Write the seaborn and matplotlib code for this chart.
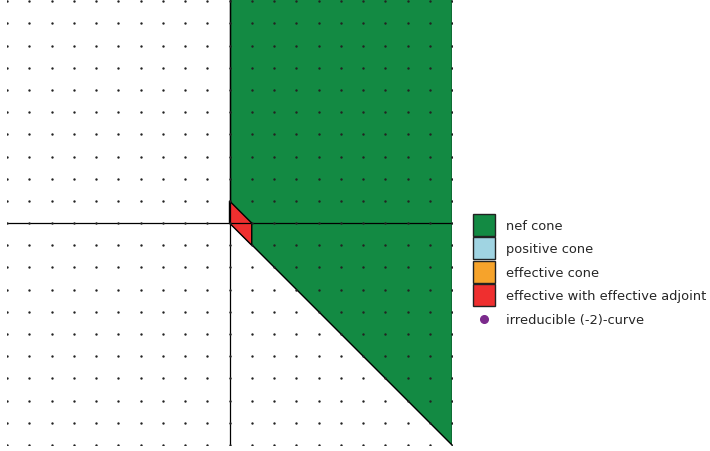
import numpy as np
import pandas as pd
import matplotlib
matplotlib.use('Agg')
import matplotlib.pyplot as plt
import seaborn as sns
from matplotlib.patches import Polygon, Patch
from matplotlib.lines import Line2D
from matplotlib.legend_handler import HandlerLine2D

# lattice and cone data
lattice_range = list(range(-10, 11))
nef_cone = [(0, 0), (0, 11), (10, 11), (10, -10)]
effective_adjoint = [(0, 1), (1, 0), (1, -1), (0, 0)]

legend_labels = ['nef cone', 'positive cone', 'effective cone',
                 'effective with effective adjoint', 'irreducible (-2)-curve']
legend_colors = ['#138a43', '#a0d4e2', '#f6a32b', '#ef2f2f', '#7b2a8c']


class DotHandler(HandlerLine2D):
    # put the dot level with its label
    def create_artists(self, *args, **kwargs):
        artists = super().create_artists(*args, **kwargs)
        for a in artists:
            a.set_ydata(np.asarray(a.get_ydata()) - 2.8)
        return artists


sns.set_style('white')
plt.rcParams['font.family'] = ['DejaVu Sans']

fig = plt.figure(figsize=(7.1, 4.52), dpi=100)
ax = fig.add_axes([7 / 710, 6 / 452, 445 / 710, 446 / 452])

# regions
ax.add_patch(Polygon(nef_cone, closed=True, facecolor=legend_colors[0],
                     edgecolor='black', linewidth=1, zorder=1))
ax.add_patch(Polygon(effective_adjoint, closed=True, facecolor=legend_colors[3],
                     edgecolor='black', linewidth=1, zorder=2))

# axes lines
ax.plot([-10, 10], [0, 0], color='black', linewidth=0.9, zorder=3)
ax.plot([0, 0], [-10, 11], color='black', linewidth=0.9, zorder=3)

# lattice points
xx, yy = np.meshgrid(lattice_range, lattice_range)
pts = pd.DataFrame({'x': xx.ravel(), 'y': yy.ravel()})
sns.scatterplot(data=pts, x='x', y='y', ax=ax, s=3, color='#222222',
                linewidth=0, zorder=4, legend=False)

ax.set_xlim(-10, 10)
ax.set_ylim(-10, 10.1)
ax.set_axis_off()

handles = [Patch(facecolor=c, edgecolor='#222222', linewidth=1) for c in legend_colors[:4]]
dot = Line2D([], [], linestyle='none', marker='o', markersize=5.5,
             markerfacecolor=legend_colors[4], markeredgecolor=legend_colors[4])
handles.append(dot)
fig.legend(handles, legend_labels, loc='upper left', bbox_to_anchor=(469 / 710, 1 - 211 / 452),
           frameon=False, fontsize=9.4, handlelength=1.7, handleheight=2.2,
           labelspacing=0.12, handletextpad=0.85, borderaxespad=0, borderpad=0.3,
           handler_map={dot: DotHandler()})

fig.savefig('out.png', dpi=100)
